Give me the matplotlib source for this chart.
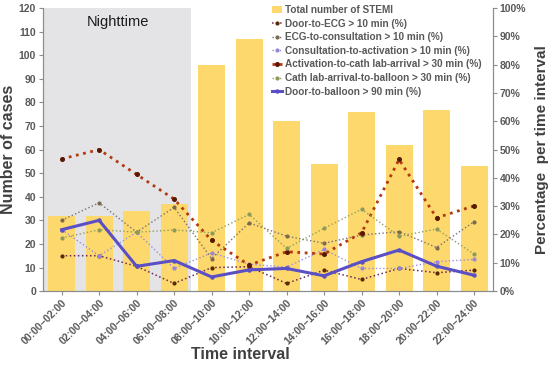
import numpy as np
import matplotlib
matplotlib.use('Agg')
import matplotlib.pyplot as plt
from matplotlib.ticker import PercentFormatter

plt.rcParams['font.family'] = ['Liberation Sans', 'DejaVu Sans']

# time intervals
intervals = ['00:00\u201302:00', '02:00\u201304:00', '04:00\u201306:00', '06:00\u201308:00',
             '08:00\u201310:00', '10:00\u201312:00', '12:00\u201314:00', '14:00\u201316:00',
             '16:00\u201318:00', '18:00\u201320:00', '20:00\u201322:00', '22:00\u201324:00']

# total number of STEMI per interval (left axis)
total_stemi = [32, 32, 34, 37, 96, 107, 72, 54, 76, 62, 77, 53]

# percentages (right axis)
door_ecg = [12.5, 12.5, 8.75, 2.7, 8.3, 8.6, 2.7, 7.4, 4.1, 8.0, 6.5, 7.4]
ecg_consult = [25.0, 31.2, 20.8, 29.6, 11.5, 24.1, 19.4, 16.9, 19.8, 21.0, 15.4, 24.5]
consult_activ = [21.7, 12.5, 20.8, 8.0, 13.5, 9.5, 8.5, 14.7, 8.0, 8.0, 10.4, 11.2]
activ_cath = [46.7, 50.0, 41.2, 32.5, 17.9, 9.2, 13.9, 13.1, 20.6, 46.5, 25.9, 30.1]
cath_balloon = [18.75, 21.7, 20.8, 21.6, 20.6, 27.1, 15.1, 22.2, 28.9, 19.4, 21.9, 13.1]
door_balloon = [21.7, 25.0, 8.75, 10.8, 5.0, 7.5, 8.0, 5.4, 10.4, 14.5, 8.8, 5.6]

txt = '#595959'
x = np.arange(len(intervals))

fig = plt.figure(figsize=(5.5, 3.68), dpi=100)
ax1 = fig.add_axes([0.078, 0.209, 0.818, 0.769])
ax2 = ax1.twinx()

# nighttime shading
ax1.axvspan(-0.5, 3.45, color='#e4e3e6', zorder=0, lw=0)
ax1.text(1.5, 114, 'Nighttime', ha='center', va='center', fontsize=10.5, color='#1a1a1a')

bars = ax1.bar(x, total_stemi, width=0.72, color='#fdd86c', zorder=2,
               label='Total number of STEMI')

l1, = ax2.plot(x, door_ecg, ':', color='#6b2a55', lw=1.1, marker='o', ms=2.0,
               mfc='#5a2a00', mec='#5a2a00', label='Door-to-ECG > 10 min (%)')
l2, = ax2.plot(x, ecg_consult, ':', color='#7a7070', lw=1.0, marker='o', ms=2.0,
               mfc='#7a6a50', mec='#7a6a50', label='ECG-to-consultation > 10 min (%)')
l3, = ax2.plot(x, consult_activ, ':', color='#9b8fe0', lw=1.0, marker='o', ms=2.0,
               mfc='#9a86d8', mec='#9a86d8', label='Consultation-to-activation > 10 min (%)')
l4, = ax2.plot(x, activ_cath, ':', color='#b23a10', lw=2.0, marker='o', ms=2.6,
               mfc='#5a1800', mec='#5a1800', label='Activation-to-cath lab-arrival > 30 min (%)')
l5, = ax2.plot(x, cath_balloon, ':', color='#8fa060', lw=1.0, marker='o', ms=2.0,
               mfc='#8c9a5a', mec='#8c9a5a', label='Cath lab-arrival-to-balloon > 30 min (%)')
l6, = ax2.plot(x, door_balloon, '-', color='#5a4fc4', lw=2.2, marker='o', ms=2.2,
               label='Door-to-balloon > 90 min (%)')

ax1.set_xlim(-0.5, len(intervals) - 0.5)
ax1.set_ylim(0, 120)
ax1.set_yticks(range(0, 121, 10))
ax2.set_ylim(0, 100)
ax2.set_yticks(range(0, 101, 10))
ax2.yaxis.set_major_formatter(PercentFormatter(decimals=0))

ax1.set_xticks(x)
ax1.set_xticklabels(intervals, rotation=45, ha='right', rotation_mode='anchor')

for ax in (ax1, ax2):
    ax.spines['top'].set_visible(False)
    for s in ('left', 'right', 'bottom'):
        ax.spines[s].set_color('#8c8c8c')
    ax.tick_params(colors='#8c8c8c', labelcolor=txt, labelsize=7.5, length=3, pad=2)
    for lab in ax.get_xticklabels() + ax.get_yticklabels():
        lab.set_fontweight('bold')

ax1.set_xlabel('Time interval', fontsize=11.5, fontweight='bold', color='#404040',
               labelpad=0, x=0.44)
ax1.set_ylabel('Number of cases', fontsize=11.5, fontweight='bold', color='#404040', labelpad=2)
ax2.set_ylabel('Percentage  per time interval', fontsize=11, fontweight='bold',
               color='#404040', labelpad=6)

handles = [bars, l1, l2, l3, l4, l5, l6]
leg = ax2.legend(handles, [h.get_label() for h in handles], loc='upper right',
                 bbox_to_anchor=(0.985, 1.025), frameon=False, fontsize=7.2,
                 handlelength=1.0, handletextpad=0.3, labelspacing=0.36, borderaxespad=0)
for t in leg.get_texts():
    t.set_color(txt)
    t.set_fontweight('bold')

fig.savefig('out.png', dpi=100)
